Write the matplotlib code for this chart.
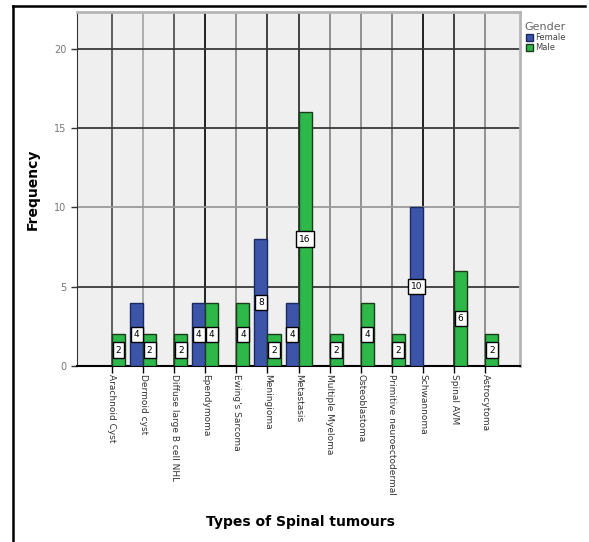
import numpy as np
import matplotlib
matplotlib.use('Agg')
import matplotlib.pyplot as plt
from matplotlib.lines import Line2D
from matplotlib.patches import Patch

# данные
tumours = ['Arachnoid Cyst', 'Dermoid cyst', 'Diffuse large B cell NHL',
           'Ependymoma', "Ewing's Sarcoma", 'Meningioma', 'Metastasis',
           'Multiple Myeloma', 'Osteoblastoma', 'Primitive neuroectodermal',
           'Schwannoma', 'Spinal AVM', 'Astrocytoma']
female = [0, 4, 0, 4, 0, 8, 4, 0, 0, 0, 10, 0, 0]
male = [2, 2, 2, 4, 4, 2, 16, 2, 4, 2, 0, 6, 2]
genders = ['Female', 'Male']
y_ticks = [0, 5, 10, 15, 20]

blue = '#3d55a9'
green = '#2eb84a'

fig = plt.figure(figsize=(5.89, 5.42), dpi=100)
W, H = 589, 542
ax = fig.add_axes([77 / W, 1 - 366 / H, (520 - 77) / W, (366 - 12) / H])
ax.set_facecolor('#efefef')

x = np.arange(len(tumours))
w = 0.42

# вертикальные линии сетки по центрам категорий
vcolors = ['#555555', '#a8a8a8', '#555555', '#111111', '#8a8a8a', '#333333', '#333333',
           '#8a8a8a', '#8a8a8a', '#7a7a7a', '#111111', '#333333', '#8a8a8a']
for xi, c in zip(x, vcolors):
    ax.axvline(xi, color=c, lw=1.3, zorder=1)
for yv in y_ticks[1:]:
    ax.axhline(yv, color='#9a9a9a' if yv == 10 else '#3a3a3a', lw=1.3, zorder=1)

for i in x:
    for val, off, col in ((female[i], -w / 2, blue), (male[i], w / 2, green)):
        if val == 0:
            continue
        ax.bar(i + off, val, width=w, color=col, edgecolor='#1c3a1c' if col == green else '#1a2a60',
               linewidth=1.0, zorder=3)
        ax.text(i + off, val / 2, str(val), ha='center', va='center', fontsize=6.5, zorder=4,
                bbox=dict(boxstyle='square,pad=0.35', fc='white', ec='black', lw=1.0))

ax.set_xlim(-1.125, 13.12)
ax.set_ylim(0, 22.3)
ax.set_yticks(y_ticks)
ax.set_yticklabels([str(v) for v in y_ticks], color='#777777', fontsize=7)
ax.set_xticks(x)
ax.set_xticklabels(tumours, rotation=270, fontsize=6.5, color='#333333', va='top', ha='center')
ax.tick_params(axis='y', length=4, color='#333333', width=1)
ax.tick_params(axis='x', length=5, color='black', width=1, pad=1)

for s in ['top', 'right']:
    ax.spines[s].set_color('#b5b5b5')
    ax.spines[s].set_linewidth(2)
ax.spines['left'].set_color('#333333')
ax.spines['bottom'].set_color('black')
ax.spines['bottom'].set_linewidth(1.5)

ax.set_ylabel('Frequency', fontsize=10, fontweight='bold')
ax.yaxis.set_label_coords((40 - 77) / 443, 0.5)
fig.text(300 / W, 1 - 522 / H, 'Types of Spinal tumours', fontsize=10, fontweight='bold',
         ha='center', va='center')

handles = [Patch(facecolor=blue, edgecolor='#1a2a60'), Patch(facecolor=green, edgecolor='#1c3a1c')]
leg = fig.legend(handles, genders, title='Gender', loc='upper left',
                 bbox_to_anchor=(519 / W, 1 - 16 / H), frameon=False, fontsize=6,
                 title_fontsize=8, handlelength=0.9, handleheight=0.9, handletextpad=0.3,
                 labelspacing=0.15, borderpad=0.2)
leg.get_title().set_color('#666666')
leg._legend_box.align = 'right'
for t in leg.get_texts():
    t.set_color('#444444')

# рамка вокруг рисунка
fig.add_artist(Line2D([13 / W, 13 / W], [0, 1 - 6 / H], color='black', lw=1.8))
fig.add_artist(Line2D([13 / W, 585 / W], [1 - 6 / H, 1 - 6 / H], color='black', lw=1.8))

fig.savefig('out.png', dpi=100)
